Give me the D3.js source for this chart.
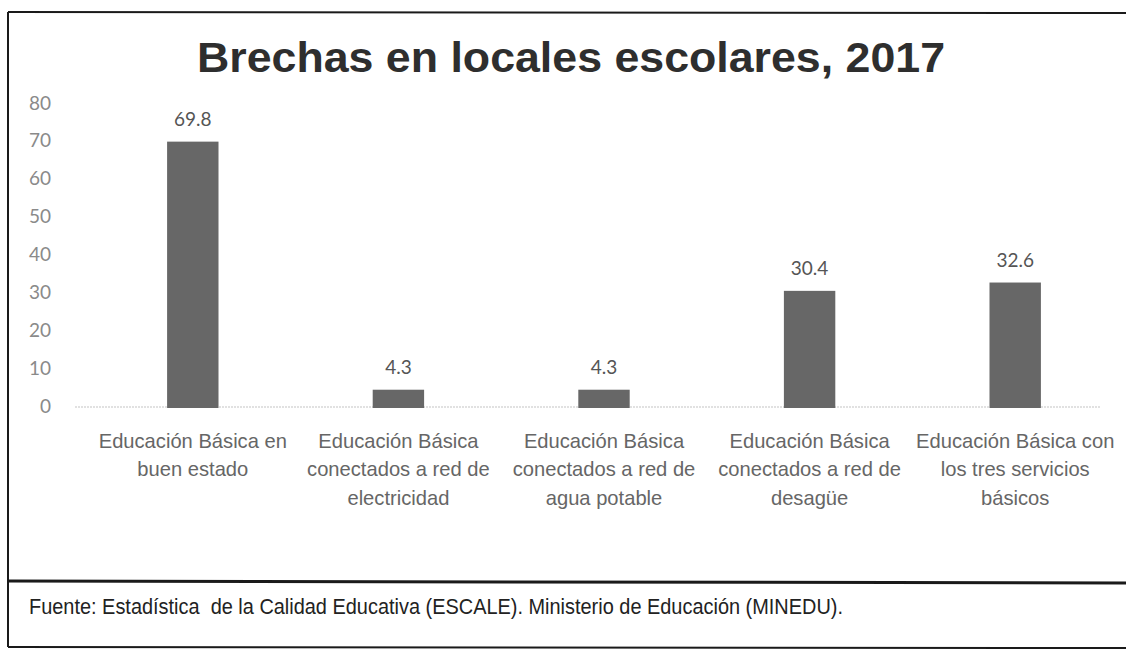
<!DOCTYPE html>
<html>
<head>
<meta charset="utf-8">
<script src="https://cdn.jsdelivr.net/npm/d3@7"></script>
<style>
  body { margin: 0; background: #fff; }
  svg { display: block; }
</style>
</head>
<body>
<div id="chart"></div>
<script>
// data
var categories = [
    ["Educación Básica en", "buen estado"],
    ["Educación Básica", "conectados a red de", "electricidad"],
    ["Educación Básica", "conectados a red de", "agua potable"],
    ["Educación Básica", "conectados a red de", "desagüe"],
    ["Educación Básica con", "los tres servicios", "básicos"]
];
var values = [69.8, 4.3, 4.3, 30.4, 32.6];
var valueLabels = ["69.8", "4.3", "4.3", "30.4", "32.6"];
var yTicks = [0, 10, 20, 30, 40, 50, 60, 70, 80];
var title = "Brechas en locales escolares, 2017";
var source = "Fuente: Estadística  de la Calidad Educativa (ESCALE). Ministerio de Educación (MINEDU).";

var attrs = {
    width: 1126,
    height: 652,
    barColor: "#676767",
    sans: "'Liberation Sans', Arial, sans-serif",
    light: "Lato, 'Open Sans', sans-serif",
    squeeze: 0.96 // category labels are a little narrower than plain Arial
};

var svg = d3.select("#chart").append("svg")
    .attr("width", attrs.width)
    .attr("height", attrs.height);

// frame round the chart and the source note
svg.append("line").attr("x1", 8).attr("x2", 1126).attr("y1", 12).attr("y2", 13)
    .attr("stroke", "#1a1a1a").attr("stroke-width", 2);
svg.append("line").attr("x1", 8).attr("x2", 8).attr("y1", 12).attr("y2", 647)
    .attr("stroke", "#1a1a1a").attr("stroke-width", 2);
svg.append("line").attr("x1", 8).attr("x2", 1126).attr("y1", 581).attr("y2", 583)
    .attr("stroke", "#1a1a1a").attr("stroke-width", 3);
svg.append("line").attr("x1", 8).attr("x2", 1126).attr("y1", 647).attr("y2", 648)
    .attr("stroke", "#1a1a1a").attr("stroke-width", 2);

svg.append("text")
    .attr("x", 197)
    .attr("y", 72)
    .attr("textLength", 748)
    .attr("lengthAdjust", "spacingAndGlyphs")
    .style("font-family", attrs.sans)
    .style("font-weight", "bold")
    .style("font-size", "42px")
    .attr("fill", "#2e2e2e")
    .text(title);

var x = d3.scaleBand()
    .domain(d3.range(values.length))
    .range([90, 1118])
    .paddingInner(0.75)
    .paddingOuter(0.375);

var y = d3.scaleLinear()
    .domain([0, 80])
    .range([406, 103]);

// y axis: labels only, no line
var yAxis = d3.axisLeft(y).tickValues(yTicks).tickSize(0).tickPadding(0);
var gy = svg.append("g").attr("transform", "translate(51,0)").call(yAxis);
gy.select(".domain").remove();
gy.selectAll("text")
    .style("font-family", attrs.light)
    .style("font-size", "19px")
    .attr("fill", "#8a8a8a");

// dotted baseline
svg.append("line")
    .attr("x1", 75).attr("x2", 1100)
    .attr("y1", y(0) + 1).attr("y2", y(0) + 1)
    .attr("stroke", "#c4c4c4")
    .attr("stroke-width", 1.2)
    .attr("stroke-dasharray", "2,1");

svg.selectAll(".bar").data(values).enter()
    .append("rect")
    .attr("class", "bar")
    .attr("x", function(d, i) { return x(i); })
    .attr("width", x.bandwidth())
    .attr("y", function(d) { return y(d); })
    .attr("height", function(d) { return y(0) - y(d) + 2; })
    .attr("fill", attrs.barColor);

svg.selectAll(".val").data(values).enter()
    .append("text")
    .attr("class", "val")
    .attr("x", function(d, i) { return x(i) + x.bandwidth() / 2; })
    .attr("y", function(d) { return y(d) - 16; })
    .attr("text-anchor", "middle")
    .style("font-family", attrs.light)
    .style("font-size", "19px")
    .attr("fill", "#555")
    .text(function(d, i) { return valueLabels[i]; });

// category labels, one tspan per line, squeezed a bit horizontally
var cat = svg.selectAll(".cat").data(categories).enter()
    .append("g")
    .attr("class", "cat")
    .attr("transform", function(d, i) {
        return "translate(" + (x(i) + x.bandwidth() / 2) + ",0) scale(" + attrs.squeeze + ",1)";
    })
    .append("text")
    .attr("text-anchor", "middle")
    .style("font-family", attrs.sans)
    .style("font-size", "21px")
    .attr("fill", "#666");
cat.selectAll("tspan").data(function(d) { return d; }).enter()
    .append("tspan")
    .attr("x", 0)
    .attr("y", function(d, j) { return 448 + j * 28.5; })
    .text(function(d) { return d; });

svg.append("text")
    .attr("x", 29)
    .attr("y", 614)
    .attr("textLength", 814)
    .attr("lengthAdjust", "spacingAndGlyphs")
    .style("font-family", attrs.sans)
    .style("font-size", "22px")
    .style("white-space", "pre")
    .attr("fill", "#222")
    .text(source);
</script>
</body>
</html>
